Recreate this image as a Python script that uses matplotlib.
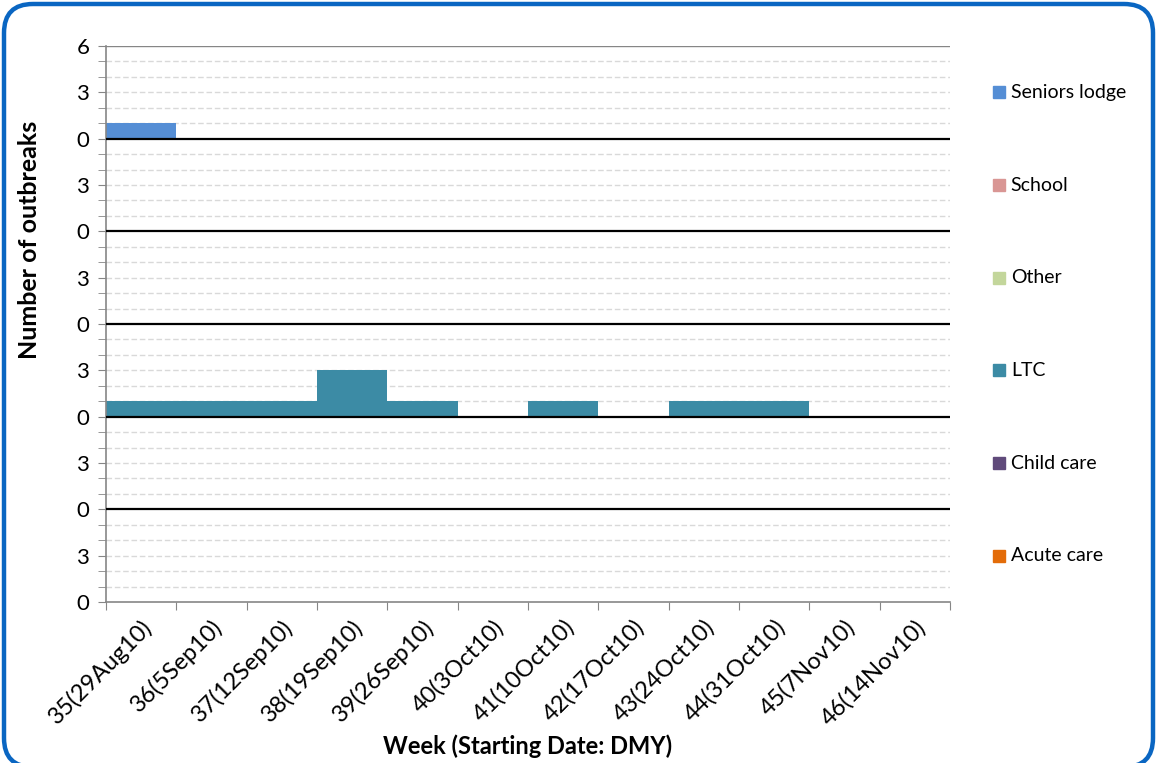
import numpy as np
import matplotlib
matplotlib.use("Agg")
import matplotlib.pyplot as plt
import matplotlib.transforms as mtransforms
from matplotlib.patches import FancyBboxPatch

# week labels and outbreak counts per setting
weeks = ['35(29Aug10)', '36(5Sep10)', '37(12Sep10)', '38(19Sep10)', '39(26Sep10)',
         '40(3Oct10)', '41(10Oct10)', '42(17Oct10)', '43(24Oct10)', '44(31Oct10)',
         '45(7Nov10)', '46(14Nov10)']
seniors_lodge = [1, 0, 0, 0, 0, 0, 0, 0, 0, 0, 0, 0]
school = [0, 0, 0, 0, 0, 0, 0, 0, 0, 0, 0, 0]
other = [0, 0, 0, 0, 0, 0, 0, 0, 0, 0, 0, 0]
ltc = [1, 1, 1, 3, 1, 0, 1, 0, 1, 1, 0, 0]
child_care = [0, 0, 0, 0, 0, 0, 0, 0, 0, 0, 0, 0]
acute_care = [0, 0, 0, 0, 0, 0, 0, 0, 0, 0, 0, 0]

# panels from bottom to top
panels = [
    ('Acute care', acute_care, '#E36C09'),
    ('Child care', child_care, '#604A7B'),
    ('LTC', ltc, '#3C8BA5'),
    ('Other', other, '#C3D69B'),
    ('School', school, '#D99694'),
    ('Seniors lodge', seniors_lodge, '#558ED5'),
]
panel_max = 6

plt.rcParams['font.family'] = ['Lato', 'DejaVu Sans']

fig = plt.figure(figsize=(11.57, 7.63), dpi=100)
ax = fig.add_axes([106 / 1157, 1 - 602 / 763, 844 / 1157, 556 / 763])

n = len(weeks)
x = np.arange(n)
top = panel_max * len(panels)

# dashed grid at every unit
for v in range(1, top):
    if v % panel_max != 0:
        ax.axhline(v, color='#D9D9D9', lw=1, ls=(0, (4, 2)), zorder=1)
ax.axhline(top, color='#868686', lw=1, zorder=1)

for k, (name, vals, col) in enumerate(panels):
    base = k * panel_max
    ax.bar(x, vals, width=1.0, bottom=base, align='edge', color=col,
           edgecolor='none', zorder=2)
    if k > 0:
        ax.axhline(base, color='black', lw=1.6, zorder=3)

ax.set_xlim(0, n)
ax.set_ylim(0, top)

ax.set_xticks(np.arange(n + 1))
ax.set_xticklabels([])
ax.set_xticks(x + 0.5, minor=True)
ax.set_xticklabels(weeks, minor=True, rotation=45, ha='right',
                   rotation_mode='anchor', fontsize=17)
ax.tick_params(axis='x', which='minor', length=0, pad=10)
ax.tick_params(axis='x', which='major', length=6, color='#868686')

yt = np.arange(0, top + 1, 3)
ax.set_yticks(yt)
ax.set_yticklabels(['6' if v == top else str(v % panel_max) for v in yt],
                   fontsize=16)
ax.set_yticks(np.arange(0, top + 1), minor=True)
ax.tick_params(axis='y', which='both', length=6, color='#868686', pad=6)

for side in ['top', 'right']:
    ax.spines[side].set_visible(False)
for side in ['left', 'bottom']:
    ax.spines[side].set_color('#868686')
    ax.spines[side].set_linewidth(1.2)

# legend entries at each panel centre
trans = mtransforms.blended_transform_factory(ax.transAxes, ax.transData)
for k, (name, vals, col) in enumerate(panels):
    yc = k * panel_max + panel_max / 2
    ax.plot([1.058], [yc], marker='s', ms=9, color=col, transform=trans,
            clip_on=False, ls='none')
    ax.text(1.072, yc, name, transform=trans, va='center', ha='left',
            fontsize=14)

fig.text(528 / 1157, 1 - 746 / 763, 'Week (Starting Date: DMY)',
         ha='center', va='center', fontsize=17, fontweight='bold')
fig.text(30 / 1157, 1 - 240 / 763, 'Number of outbreaks', rotation=90,
         ha='center', va='center', fontsize=18, fontweight='bold')

frame = FancyBboxPatch((4 / 1157, -4 / 763), 1149 / 1157, 763 / 763,
                       boxstyle='round,pad=0,rounding_size=0.025',
                       transform=fig.transFigure, fill=False,
                       edgecolor='#0A66C2', lw=3.2, mutation_aspect=1157 / 763)
fig.patches.append(frame)

fig.savefig('out.png', dpi=100)
